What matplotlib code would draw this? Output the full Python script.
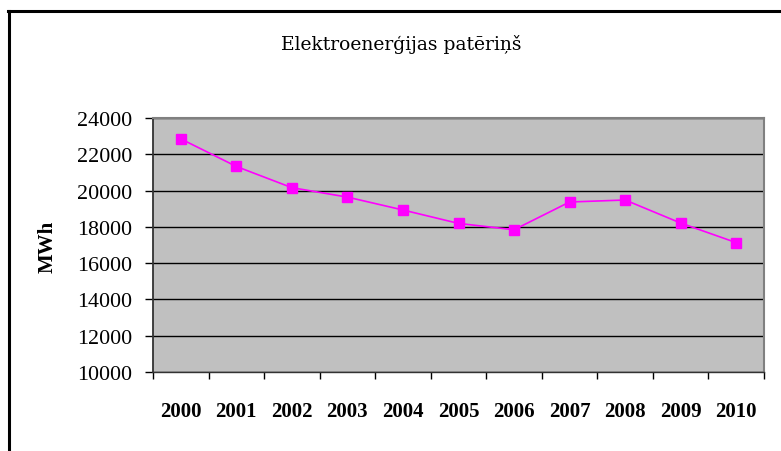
import matplotlib
matplotlib.use("Agg")
import matplotlib.pyplot as plt
from matplotlib.lines import Line2D

years = ["2000", "2001", "2002", "2003", "2004", "2005", "2006", "2007", "2008", "2009", "2010"]
consumption = [22850, 21330, 20160, 19640, 18930, 18190, 17840, 19370, 19480, 18210, 17130]
y_ticks = [10000, 12000, 14000, 16000, 18000, 20000, 22000, 24000]
title = "Elektroenerģijas patēriņš"
y_label = "MWh"

plt.rcParams['font.family'] = ['Liberation Serif', 'DejaVu Serif']

W, H = 781, 452
fig = plt.figure(figsize=(W / 100, H / 100), dpi=100)
fig.patch.set_facecolor("white")

ax = fig.add_axes([153 / W, 1 - 373 / H, (764 - 153) / W, (373 - 119) / H])
ax.set_facecolor("#C0C0C0")

x = list(range(len(years)))
ax.plot(x, consumption, color="#FF00FF", lw=1.2, marker="s", ms=6.8,
        markerfacecolor="#FF00FF", markeredgecolor="#FF00FF", zorder=3)

ax.set_xlim(-0.5, len(years) - 0.5)
ax.set_ylim(y_ticks[0], y_ticks[-1])
ax.set_yticks(y_ticks)
ax.set_yticklabels([str(v) for v in y_ticks], fontsize=15.8)
ax.yaxis.grid(True, color="black", lw=1.0)
ax.set_axisbelow(True)

ax.set_xticks(x)
ax.set_xticklabels(years, fontsize=15, fontweight="bold")
ax.tick_params(axis="x", which="major", length=0, pad=21)
ax.set_xticks([i - 0.5 for i in range(len(years) + 1)], minor=True)
ax.tick_params(axis="x", which="minor", length=5, width=1, color="black", direction="out")
ax.tick_params(axis="y", length=6, width=1, color="black", direction="out", pad=9)

for s in ("top", "right"):
    ax.spines[s].set_color("#808080")
    ax.spines[s].set_linewidth(1.5)
ax.spines["left"].set_color("#333333")
ax.spines["left"].set_linewidth(1.3)
ax.spines["bottom"].set_color("#333333")
ax.spines["bottom"].set_linewidth(1.0)

fig.text(48 / W, 1 - 247 / H, y_label, rotation=90, ha="center", va="center",
         fontsize=15, fontweight="bold")
fig.text(401 / W, 1 - 45 / H, title, ha="center", va="center", fontsize=13.5,
         family=['DejaVu Serif'])

# outer chart border (left and top)
fig.add_artist(Line2D([8.5 / W, 8.5 / W], [0, 1 - 12 / H], color="black", lw=2.2,
                      transform=fig.transFigure))
fig.add_artist(Line2D([8 / W, 1], [1 - 12 / H, 1 - 12 / H], color="black", lw=2.2,
                      transform=fig.transFigure))

fig.savefig("out.png", dpi=100)
